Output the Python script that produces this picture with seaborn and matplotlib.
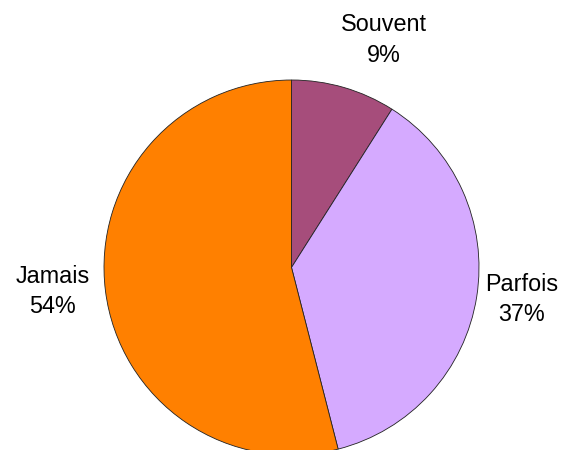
import numpy as np
import matplotlib
matplotlib.use("Agg")
import matplotlib.pyplot as plt
import seaborn as sns

# data
categories = ["Souvent", "Parfois", "Jamais"]
percents = [9, 37, 54]
colors = ["#A64D7B", "#D5AAFF", "#FF8000"]

# label placement tweaks (degrees shift from wedge middle, distance in radii)
label_shift = [-6.0, 1.0, -1.4]
label_dist = [1.31, 1.24, 1.28]

sns.set_theme(style="white")
plt.rcParams["font.family"] = ["Liberation Sans", "DejaVu Sans"]

fig = plt.figure(figsize=(5.63, 4.5), dpi=100)
ax = fig.add_axes([0, 0, 1, 1])

wedges, _ = ax.pie(percents, colors=colors, startangle=90, counterclock=False,
                   wedgeprops=dict(edgecolor="#222222", linewidth=0.6))

# pixel layout: centre (291.5, 267.5), radius 187.5
r_px = 187.5
ax.set_xlim(-291.5 / r_px, (563 - 291.5) / r_px)
ax.set_ylim(-(450 - 267.5) / r_px, 267.5 / r_px)
ax.set_aspect("equal", adjustable="datalim")

for w, cat, p, sh, d in zip(wedges, categories, percents, label_shift, label_dist):
    ang = np.deg2rad((w.theta1 + w.theta2) / 2 + sh)
    ax.text(d * np.cos(ang), d * np.sin(ang), f"{cat}\n{p}%",
            ha="center", va="center", multialignment="center",
            fontsize=16.8, linespacing=1.4, color="black")

ax.axis("off")
fig.savefig("out.png", dpi=100, facecolor="white")
